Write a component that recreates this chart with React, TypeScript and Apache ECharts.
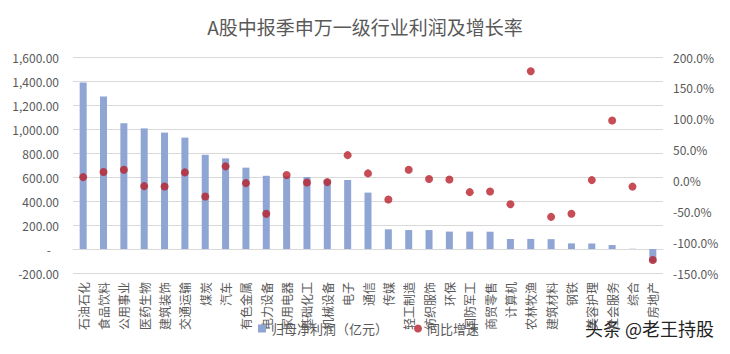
import React, { useEffect, useRef } from "react";
import * as echarts from "echarts";

const categories = [
  "石油石化", "食品饮料", "公用事业", "医药生物", "建筑装饰", "交通运输", "煤炭", "汽车",
  "有色金属", "电力设备", "家用电器", "基础化工", "机械设备", "电子", "通信", "传媒",
  "轻工制造", "纺织服饰", "环保", "国防军工", "商贸零售", "计算机", "农林牧渔", "建筑材料",
  "钢铁", "美容护理", "社会服务", "综合", "房地产",
];
const profit = [
  1388, 1270, 1048, 1005, 970, 928, 785, 755,
  678, 610, 605, 600, 580, 575, 470, 164,
  158, 158, 145, 145, 144, 83, 84, 82,
  47, 46, 33, 2, -112,
];
const growth = [
  5.4, 13.6, 17.4, -9.2, -9.8, 13.0, -26.0, 22.8,
  -4.4, -54.0, 8.7, -3.3, -2.7, 41.0, 11.4, -31.0,
  17.4, 2.2, 1.6, -19.0, -18.0, -38.5, 177.0, -59.0,
  -54.0, 0.5, 97.0, -10.0, -129.0,
];
const seriesNames = ["归母净利润（亿元）", "同比增速"];
const titleText = "A股中报季申万一级行业利润及增长率";
const watermark = "头条 @老王持股";

const FONT = "'Noto Sans CJK SC', 'Noto Sans', sans-serif";
const GRAY = "#595959";

export default function App() {
  const ref = useRef<HTMLDivElement>(null);
  useEffect(() => {
    if (!ref.current) return;
    const chart = echarts.init(ref.current, null, { renderer: "svg" });
    chart.setOption({
      animation: false,
      backgroundColor: "#ffffff",
      textStyle: { fontFamily: FONT },
      title: {
        text: titleText,
        left: "center",
        top: 12,
        textStyle: { fontFamily: FONT, fontSize: 19, fontWeight: "normal", color: GRAY },
      },
      graphic: [
        {
          type: "rect",
          shape: { x: 2.5, y: 2.5, width: 724, height: 346, r: 8 },
          style: { fill: "none", stroke: "#d9d9d9", lineWidth: 1 },
          silent: true,
          z: -10,
        },
        {
          type: "text",
          left: 585,
          top: 319,
          style: { text: watermark, fontSize: 18, fill: "#222222", fontFamily: FONT },
        },
      ],
      legend: {
        top: 322,
        left: 258,
        itemGap: 26,
        itemWidth: 8,
        itemHeight: 8,
        padding: 0,
        textStyle: { fontFamily: FONT, fontSize: 13, color: GRAY },
        data: [
          { name: seriesNames[0], icon: "rect" },
          { name: seriesNames[1], icon: "circle" },
        ],
      },
      grid: { left: 73, right: 67, top: 57, bottom: 81, containLabel: false },
      xAxis: {
        type: "category",
        data: categories,
        axisLine: { onZero: true, onZeroAxisIndex: 0, lineStyle: { color: "#d9d9d9" } },
        axisTick: { show: false },
        axisLabel: {
          rotate: 90,
          interval: 0,
          margin: 9,
          fontSize: 12,
          color: GRAY,
          fontFamily: FONT,
        },
      },
      yAxis: [
        {
          type: "value",
          min: -200,
          max: 1600,
          interval: 200,
          axisLine: { show: false },
          axisTick: { show: false },
          splitLine: { lineStyle: { color: "#d9d9d9" } },
          axisLabel: {
            margin: 14,
            fontSize: 12,
            color: GRAY,
            fontFamily: FONT,
            formatter: (v: number) =>
              v === 0
                ? "{z|-}"
                : v.toLocaleString("en-US", { minimumFractionDigits: 2, maximumFractionDigits: 2 }),
            rich: { z: { padding: [0, 8, 0, 0], fontSize: 12, color: GRAY } },
          },
        },
        {
          type: "value",
          min: -150,
          max: 200,
          interval: 50,
          axisLine: { show: false },
          axisTick: { show: false },
          splitLine: { show: false },
          axisLabel: {
            margin: 10,
            fontSize: 12,
            color: GRAY,
            fontFamily: FONT,
            formatter: (v: number) => v.toFixed(1) + "%",
          },
        },
      ],
      series: [
        {
          name: seriesNames[0],
          type: "bar",
          data: profit,
          barWidth: 7,
          itemStyle: { color: "#8FA5D3" },
        },
        {
          name: seriesNames[1],
          type: "scatter",
          yAxisIndex: 1,
          data: growth,
          symbol: "circle",
          symbolSize: 8,
          itemStyle: { color: "#B8202B" },
        },
      ],
    });
    return () => chart.dispose();
  }, []);
  return <div ref={ref} style={{ width: 730, height: 354, margin: -8 }} />;
}
